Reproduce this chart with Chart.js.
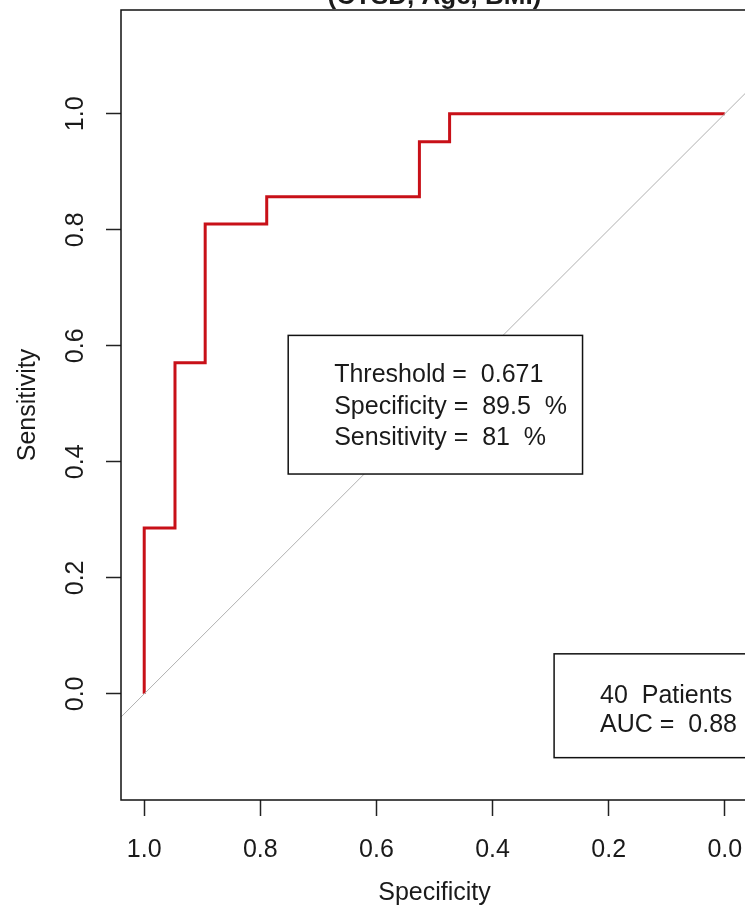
<!DOCTYPE html>
<html><head><meta charset="utf-8">
<script src="https://cdn.jsdelivr.net/npm/chart.js@4.4.0/dist/chart.umd.min.js"></script>
<style>
html,body{margin:0;padding:0;background:#fff;overflow:hidden;width:745px;height:910px}
#wrap{position:absolute;left:0;top:0;width:760px;height:910px}
canvas{display:block}
</style>
</head><body><div id="wrap"><canvas id="c" width="760" height="910"></canvas></div>
<script>
// ROC curve corner points (specificity, sensitivity)
const specificity = [1.000, 1.000, 0.947, 0.947, 0.895, 0.895, 0.789, 0.789, 0.526, 0.526, 0.474, 0.474, 0.000];
const sensitivity = [0.000, 0.286, 0.286, 0.571, 0.571, 0.810, 0.810, 0.857, 0.857, 0.952, 0.952, 1.000, 1.000];
const xTicks = [1.0, 0.8, 0.6, 0.4, 0.2, 0.0];
const yTicks = [0.0, 0.2, 0.4, 0.6, 0.8, 1.0];
const titleText = '(CTSD, Age, BMI)';
const xTitle = 'Specificity';
const yTitle = 'Sensitivity';
const thresholdLines = ['Threshold =  0.671', 'Specificity =  89.5  %', 'Sensitivity =  81  %'];
const aucLines = ['40  Patients', 'AUC =  0.88'];

const X_MIN = -0.04, X_MAX = 1.04, Y_MIN = -0.183, Y_MAX = 1.179;
const FONT = 'Liberation Sans, Arial, sans-serif';
const TXT = '#1a1a1a';

const overlay = {
  id: 'overlay',
  afterDatasetsDraw(chart) {
    const {ctx, chartArea: a, scales: {x, y}} = chart;
    ctx.save();
    function box(x0, x1, y0, y1, lines, tx, bases) {
      const L = x.getPixelForValue(x0), R = x.getPixelForValue(x1);
      const T = y.getPixelForValue(y0), B = y.getPixelForValue(y1);
      ctx.fillStyle = '#fff';
      ctx.fillRect(L, T, R - L, B - T);
      ctx.strokeStyle = '#111';
      ctx.lineWidth = 1.5;
      ctx.strokeRect(L, T, R - L, B - T);
      ctx.fillStyle = TXT;
      ctx.font = '25px ' + FONT;
      ctx.textAlign = 'left';
      ctx.textBaseline = 'alphabetic';
      lines.forEach((s, i) => ctx.fillText(s, L + tx, T + bases[i]));
    }
    box(0.752, 0.245, 0.618, 0.379, thresholdLines, 46, [47, 79, 110]);
    box(0.294, -0.12, 0.069, -0.110, aucLines, 46, [49, 78]);
    ctx.strokeStyle = '#111';
    ctx.lineWidth = 1.5;
    ctx.strokeRect(a.left, a.top, a.right - a.left, a.bottom - a.top);
    ctx.restore();
  },
  afterDraw(chart) {
    const {ctx, chartArea: a, scales: {y}} = chart;
    ctx.save();
    ctx.fillStyle = TXT;
    ctx.font = '25px ' + FONT;
    ctx.textAlign = 'center';
    ctx.textBaseline = 'alphabetic';
    yTicks.forEach(v => {
      const py = y.getPixelForValue(v);
      ctx.save();
      ctx.translate(83, py);
      ctx.rotate(-Math.PI / 2);
      ctx.fillText(v.toFixed(1), 0, 0);
      ctx.restore();
    });
    ctx.save();
    ctx.translate(35, (a.top + a.bottom) / 2);
    ctx.rotate(-Math.PI / 2);
    ctx.fillText(yTitle, 0, 0);
    ctx.restore();
    ctx.font = 'bold 26px ' + FONT;
    ctx.fillText(titleText, (a.left + a.right) / 2, 4);
    ctx.restore();
  }
};

new Chart(document.getElementById('c'), {
  type: 'scatter',
  data: {
    datasets: [
      { data: [{x: X_MAX, y: 1 - X_MAX}, {x: X_MIN, y: 1 - X_MIN}], showLine: true,
        borderColor: '#b0b0b0', borderWidth: 1, pointRadius: 0 },
      { data: specificity.map((s, i) => ({x: s, y: sensitivity[i]})), showLine: true,
        borderColor: 'rgb(200,16,24)', borderWidth: 3, pointRadius: 0, tension: 0,
        borderJoinStyle: 'miter' }
    ]
  },
  options: {
    responsive: false, animation: false, devicePixelRatio: 1,
    layout: {padding: {top: 10, right: 12, left: 0, bottom: 0}},
    plugins: {legend: {display: false}, tooltip: {enabled: false}, title: {display: false}},
    scales: {
      x: {
        type: 'linear', reverse: true, min: X_MIN, max: X_MAX,
        afterBuildTicks: s => { s.ticks = xTicks.map(v => ({value: v})); },
        afterFit: s => { s.height = 110; s.paddingLeft = 0; s.paddingRight = 0; },
        grid: {drawOnChartArea: false, drawTicks: true, tickLength: 16, tickColor: '#222', tickWidth: 1.5},
        border: {display: false},
        ticks: {color: TXT, font: {family: FONT, size: 25}, padding: 19, maxRotation: 0, minRotation: 0,
                autoSkip: false, callback: v => Number(v).toFixed(1)},
        title: {display: true, text: xTitle, color: TXT, font: {family: FONT, size: 25}, padding: {top: 0, bottom: 2}}
      },
      y: {
        type: 'linear', min: Y_MIN, max: Y_MAX,
        afterBuildTicks: s => { s.ticks = yTicks.map(v => ({value: v})); },
        afterFit: s => { s.width = 121; s.paddingTop = 0; s.paddingBottom = 0; },
        grid: {drawOnChartArea: false, drawTicks: true, tickLength: 15, tickColor: '#222', tickWidth: 1.5},
        border: {display: false},
        ticks: {display: false}
      }
    }
  },
  plugins: [overlay]
});
</script>
</body></html>
